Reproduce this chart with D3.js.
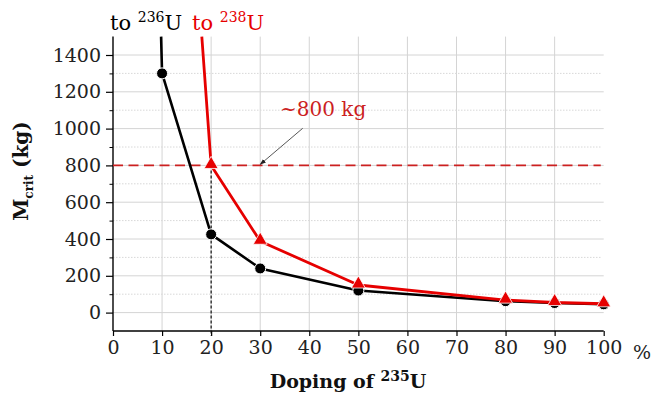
<!DOCTYPE html>
<html>
<head>
<meta charset="utf-8">
<script src="https://cdn.jsdelivr.net/npm/d3@7/dist/d3.min.js"></script>
<style>
  html, body { margin: 0; padding: 0; background: #fff; }
  svg { display: block; }
  text { font-family: "DejaVu Serif", "Liberation Serif", serif; }
</style>
</head>
<body>
<script>
// Enrichment (% of 235U) and critical mass (kg)
const doping = [10, 20, 30, 50, 80, 90, 100];
const massTo236 = [1300, 425, 240, 120, 62, 52, 45];
const dopingTo238 = [20, 30, 50, 80, 90, 100];
const massTo238 = [800, 388, 150, 68, 55, 48];
// curves continue steeply upward past the top of the plot
const leadIn236 = [9.8, 1500];
const leadIn238 = [18.1, 1500];

const xTicks = [0, 10, 20, 30, 40, 50, 60, 70, 80, 90, 100];
const yTicks = [0, 200, 400, 600, 800, 1000, 1200, 1400];
const yMinor = [100, 300, 500, 700, 900, 1100, 1300];
const thresholdMass = 800;
const thresholdDoping = 20;

const W = 654, H = 398;
const svg = d3.select("body").append("svg").attr("width", W).attr("height", H);

const x = d3.scaleLinear().domain([0, 100]).range([113, 603.7]);
const y = d3.scaleLinear().domain([-100, 1500]).range([331, 36.6]);

const blackC = "#000", redC = "#e60000";

// grid
const grid = svg.append("g");
grid.selectAll("line.gx").data(xTicks.filter(d => d > 0 && d < 100)).join("line")
  .attr("x1", d => x(d)).attr("x2", d => x(d))
  .attr("y1", y(1500)).attr("y2", y(-100))
  .attr("stroke", "#d4d4d4").attr("stroke-width", 1);
grid.selectAll("line.gy").data(yTicks).join("line")
  .attr("x1", x(0)).attr("x2", x(100))
  .attr("y1", d => y(d)).attr("y2", d => y(d))
  .attr("stroke", "#d4d4d4").attr("stroke-width", 1);
grid.selectAll("line.gm").data(yMinor).join("line")
  .attr("x1", x(0)).attr("x2", x(99.4))
  .attr("y1", d => y(d)).attr("y2", d => y(d))
  .attr("stroke", "#d8d8d8").attr("stroke-width", 1)
  .attr("stroke-dasharray", "1.5,1.5");

// axes
const yAxis = d3.axisLeft(y).tickValues(yTicks).tickSize(7).tickPadding(5).tickFormat(d3.format("d"));
const yg = svg.append("g").attr("transform", `translate(${x(0)},0)`).call(yAxis);
yg.select(".domain").attr("d", `M0,${y(1500)}V${y(-100)}`).attr("stroke-width", 1.4);
yg.selectAll(".tick line").attr("stroke-width", 1.2);
yg.selectAll(".tick text").attr("font-size", 19).attr("fill", "#222")
  .style("font-family", "DejaVu Serif, serif");
const yMinorAxis = d3.axisLeft(y).tickValues(yMinor).tickSize(3.5).tickFormat("");
const ymg = svg.append("g").attr("transform", `translate(${x(0)},0)`).call(yMinorAxis);
ymg.select(".domain").remove();

const xAxis = d3.axisBottom(x).tickValues(xTicks).tickSize(5).tickPadding(5).tickFormat(d3.format("d"));
const xg = svg.append("g").attr("transform", `translate(0,${y(-100)})`).call(xAxis);
xg.select(".domain").attr("d", `M${x(0)},0H${x(100)}`).attr("stroke-width", 1.4);
xg.selectAll(".tick line").attr("stroke-width", 1.2);
xg.selectAll(".tick text").attr("font-size", 19).attr("fill", "#222")
  .style("font-family", "DejaVu Serif, serif");

svg.append("text").attr("x", 633).attr("y", 359).attr("font-size", 19).attr("fill", "#222").text("%");

// threshold guides
svg.append("line")
  .attr("x1", x(0)).attr("x2", x(99.4))
  .attr("y1", y(thresholdMass)).attr("y2", y(thresholdMass))
  .attr("stroke", "#cc2020").attr("stroke-width", 1.8).attr("stroke-dasharray", "10,5.5");
svg.append("line")
  .attr("x1", x(thresholdDoping)).attr("x2", x(thresholdDoping))
  .attr("y1", y(thresholdMass)).attr("y2", y(-100) + 5)
  .attr("stroke", "#111").attr("stroke-width", 1.2).attr("stroke-dasharray", "3,2");

// series lines
const line = d3.line().x(d => x(d[0])).y(d => y(d[1]));
const pts236 = doping.map((d, i) => [d, massTo236[i]]);
const pts238 = dopingTo238.map((d, i) => [d, massTo238[i]]);

svg.append("path").datum([leadIn236, ...pts236]).attr("d", line)
  .attr("fill", "none").attr("stroke", blackC).attr("stroke-width", 2.6).attr("stroke-linejoin", "round");
svg.selectAll("circle.m236").data(pts236).join("circle")
  .attr("cx", d => x(d[0])).attr("cy", d => y(d[1])).attr("r", 5.5)
  .attr("fill", blackC).attr("stroke", "#fff").attr("stroke-width", 1);

svg.append("path").datum([leadIn238, ...pts238]).attr("d", line)
  .attr("fill", "none").attr("stroke", redC).attr("stroke-width", 2.8).attr("stroke-linejoin", "round");
const tri = d3.symbol().type(d3.symbolTriangle).size(85);
svg.selectAll("path.m238").data(pts238).join("path")
  .attr("transform", d => `translate(${x(d[0])},${y(d[1]) - 1})`)
  .attr("d", tri).attr("fill", redC).attr("stroke", "#fff").attr("stroke-width", 0.8);

// annotation
const defs = svg.append("defs");
defs.append("marker").attr("id", "arr").attr("viewBox", "0 0 10 10")
  .attr("refX", 9).attr("refY", 5).attr("markerWidth", 7).attr("markerHeight", 7)
  .attr("orient", "auto")
  .append("path").attr("d", "M0,1.5L10,5L0,8.5Z").attr("fill", "#222");
svg.append("line")
  .attr("x1", 302.7).attr("y1", 128.3).attr("x2", x(30)).attr("y2", y(thresholdMass) - 1)
  .attr("stroke", "#444").attr("stroke-width", 0.9).attr("marker-end", "url(#arr)");
svg.append("text").attr("x", 280).attr("y", 116).attr("font-size", 20).attr("fill", "#cc1f1f")
  .text("~800 kg");

// curve labels
function isoLabel(xp, color, mass) {
  const t = svg.append("text").attr("x", xp).attr("y", 30).attr("font-size", 21).attr("fill", color);
  t.append("tspan").text("to ");
  t.append("tspan").attr("font-size", 14).attr("dy", -8).text(mass);
  t.append("tspan").attr("dy", 8).text("U");
}
isoLabel(110, blackC, "236");
isoLabel(192, redC, "238");

// axis titles
const xt = svg.append("text").attr("x", 348).attr("y", 388).attr("text-anchor", "middle")
  .attr("font-size", 19).attr("font-weight", "bold").attr("fill", "#111");
xt.append("tspan").text("Doping of ");
xt.append("tspan").attr("font-size", 14).attr("dy", -7).text("235");
xt.append("tspan").attr("dy", 7).text("U");

const yt = svg.append("text").attr("transform", "translate(28,171) rotate(-90)")
  .attr("text-anchor", "middle").attr("font-size", 20).attr("font-weight", "bold").attr("fill", "#111");
yt.append("tspan").text("M");
yt.append("tspan").attr("font-size", 12).attr("dy", 5).text("crit");
yt.append("tspan").attr("dy", -5).text(" (kg)");
</script>
</body>
</html>
